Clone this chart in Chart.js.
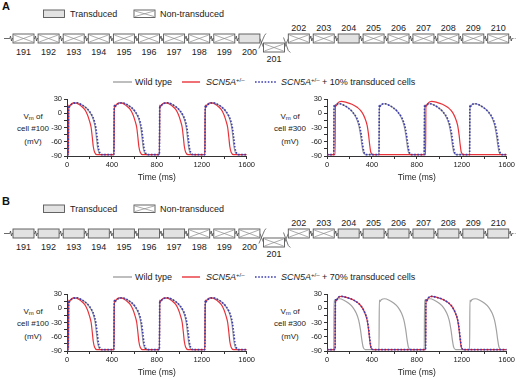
<!DOCTYPE html>
<html>
<head>
<meta charset="utf-8">
<script src="https://cdn.jsdelivr.net/npm/chart.js@4.4.1/dist/chart.umd.min.js"></script>
<style>
body { margin: 0; background: #fff; font-family: "Liberation Sans", Arial, sans-serif; color: #222; }
#fig { position: relative; width: 520px; height: 379px; overflow: hidden; }
.panel { position: absolute; left: 0; width: 520px; height: 190px; }
.panel svg { position: absolute; left: 0; top: 0; }
.panel canvas { position: absolute; }
.ylab { position: absolute; width: 60px; text-align: center; font-size: 8px; line-height: 12.5px; }
.ylab sub { font-size: 6px; vertical-align: -1px; line-height: 0; }
.leg { position: absolute; font-size: 9px; line-height: 10px; white-space: nowrap; }
.leg sup { font-size: 6px; vertical-align: 3px; line-height: 0; }
</style>
</head>
<body>
<div id="fig"></div>
<script>
// cells of the strand and which ones are transduced
const cellIds = [191, 192, 193, 194, 195, 196, 197, 198, 199, 200, 201, 202, 203, 204, 205, 206, 207, 208, 209, 210];
const transducedA = [200, 204];
const transducedB = [191, 192, 193, 194, 195, 196, 197, 204, 205, 206, 207, 208, 209, 210];
const transducedPct = ["10%", "70%"];

// one action potential per series, [ms after upstroke, mV]
const wtBeat100 = [[0, -87], [3, 16], [8, 13], [20, 17], [45, 21], [75, 22], [110, 19], [150, 13], [185, 4], [210, -6], [228, -18], [240, -32], [250, -52], [260, -72], [272, -83], [290, -87]];
const hetBeat100 = [[0, -87], [3, 17], [8, 14], [20, 18], [45, 22], [75, 21], [110, 16], [145, 8], [170, -3], [188, -16], [203, -30], [213, -50], [222, -70], [234, -82], [255, -87]];
const trBeat100 = [[0, -87], [3, 16], [8, 13], [20, 17], [45, 21], [75, 22], [110, 19], [150, 13], [185, 5], [212, -5], [232, -17], [246, -32], [257, -52], [267, -72], [280, -83], [298, -87]];
const wtBeat300 = [[0, -87], [3, 17], [7, 14], [20, 18], [50, 20], [90, 17], [130, 11], [170, 2], [200, -10], [222, -25], [238, -45], [250, -66], [262, -82], [280, -87]];
const hetBeat300 = [[0, -87], [3, 18], [8, 15], [25, 22], [55, 25], [100, 23], [150, 19], [200, 12], [240, 2], [265, -10], [285, -25], [298, -45], [308, -66], [318, -82], [338, -87]];
const trBeat300A = [[0, -87], [3, 17], [7, 14], [20, 18], [50, 20], [90, 17], [130, 11], [170, 2], [205, -10], [228, -25], [245, -45], [257, -66], [270, -82], [292, -87]];
const trBeat300B = [[0, -87], [3, 18], [8, 15], [25, 22], [55, 25], [100, 23], [150, 19], [200, 12], [240, 2], [266, -10], [287, -25], [300, -45], [310, -66], [320, -82], [340, -87]];

// upstroke times (ms)
const onsets100 = [12, 418, 823, 1228];
const onsets300 = [60, 463, 866, 1270];
const onsetsHet300 = [72, 878];

const timeTicks = [0, 400, 800, 1200, 1600];
const vmTicks = [30, 0, -30, -60, -90];

function trace(beat, onsets) {
  const rest = beat[0][1];
  const pts = [{ x: 0, y: rest }];
  onsets.forEach(t0 => beat.forEach(([dt, v]) => pts.push({ x: t0 + dt, y: v })));
  pts.push({ x: 1600, y: beat[beat.length - 1][1] });
  return pts;
}

const GRAY = "#a2a2a2", RED = "#e8333a", BLUE = "#3c3cae";

function series(wt, het, tr) {
  return [
    { data: tr, borderColor: BLUE, borderWidth: 1.6, borderDash: [1.6, 1.6] },
    { data: het, borderColor: RED, borderWidth: 1.2 },
    { data: wt, borderColor: GRAY, borderWidth: 1.2 }
  ];
}

const axisCommon = {
  grid: { drawOnChartArea: false, drawTicks: true, tickLength: 3, color: "#333", lineWidth: 1 },
  border: { display: true, color: "#333", width: 1 }
};

function makeChart(canvas, datasets) {
  return new Chart(canvas, {
    type: "line",
    data: { datasets },
    options: {
      responsive: false,
      animation: false,
      layout: { padding: { top: 7, right: 8, left: 0, bottom: 0 } },
      plugins: { legend: { display: false }, tooltip: { enabled: false } },
      elements: { point: { radius: 0 }, line: { cubicInterpolationMode: "monotone", fill: false } },
      scales: {
        x: {
          ...axisCommon,
          type: "linear", min: 0, max: 1600,
          ticks: { stepSize: 200, autoSkip: false, maxRotation: 0, padding: 1, color: "#222",
                   font: { size: 7.5, family: "Liberation Sans" },
                   callback: v => timeTicks.includes(v) ? v : "" },
          title: { display: true, text: "Time (ms)", color: "#222", padding: { top: 0, bottom: 4 },
                   font: { size: 8.5, family: "Liberation Sans" } },
          afterFit: s => { s.height = 31; }
        },
        y: {
          ...axisCommon,
          min: -90, max: 30,
          ticks: { stepSize: 15, autoSkip: false, padding: 2, color: "#222",
                   font: { size: 7.5, family: "Liberation Sans" },
                   callback: v => vmTicks.includes(v) ? v : "" },
          afterFit: s => { s.width = 27; }
        }
      }
    }
  });
}

const NS = "http://www.w3.org/2000/svg";
function el(parent, tag, attrs, text) {
  const e = document.createElementNS(NS, tag);
  for (const k in attrs) e.setAttribute(k, attrs[k]);
  if (text !== undefined) e.textContent = text;
  parent.appendChild(e);
  return e;
}

function cellBox(svg, x, y, w, h, filled) {
  el(svg, "rect", { x, y, width: w, height: h, fill: filled ? "#e2e2e2" : "#fff", stroke: "#555", "stroke-width": 0.9 });
  if (!filled) {
    el(svg, "path", { d: `M${x + 1},${y + 1}L${x + w - 1},${y + h - 1}M${x + 1},${y + h - 1}L${x + w - 1},${y + 1}`, stroke: "#888", "stroke-width": 0.7, fill: "none" });
  }
}

function link(svg, a, b, y) {
  el(svg, "path", { d: `M${a},${y}L${a + 0.8},${y}L${a + 1.5},${y - 2.5}L${a + 2.5},${y + 2.5}L${a + 3.2},${y}L${b},${y}`, stroke: "#444", "stroke-width": 0.8, fill: "none" });
}

function buildStrip(svg, letter, transduced) {
  const txt = { "font-family": "Liberation Sans, Arial, sans-serif", "font-size": 9, fill: "#222" };
  el(svg, "text", { x: 2, y: 10, "font-family": "Liberation Sans, Arial, sans-serif", "font-size": 11, "font-weight": "bold", fill: "#111" }, letter);
  // legend
  cellBox(svg, 43.5, 10, 21, 7.5, true);
  el(svg, "text", { ...txt, x: 70, y: 17 }, "Transduced");
  cellBox(svg, 134, 10, 21, 7.5, false);
  el(svg, "text", { ...txt, x: 160, y: 17 }, "Non-transduced");

  const w = 21, h = 9, rowY = 34, midY = rowY + h / 2;
  const pos = {};
  cellIds.forEach((id, i) => {
    if (id <= 200) pos[id] = { x: 13 + i * 25.1, y: rowY, ly: 54.5 };
    else if (id === 201) pos[id] = { x: 263.5, y: 43, ly: 61.5 };
    else pos[id] = { x: 288.3 + (id - 202) * 24.93, y: rowY, ly: 31 };
  });
  // wires
  el(svg, "path", { d: `M4,${midY}L9,${midY}`, stroke: "#444", "stroke-width": 0.8 });
  link(svg, 9, 13, midY);
  cellIds.forEach(id => {
    const p = pos[id], q = pos[id + 1];
    if (!q || id === 200 || id === 201) return;
    link(svg, p.x + w, q.x, midY);
  });
  const e = pos[210].x + w;
  link(svg, e, e + 4, midY);
  el(svg, "path", { d: `M${e + 4},${midY}L${e + 7},${midY}`, stroke: "#888", "stroke-width": 0.8, "stroke-dasharray": "1,1" });
  const a = pos[200].x + w, c = pos[201], d = pos[202].x;
  const ly = c.y + h / 2;
  el(svg, "path", { d: `M${a},${midY}L${c.x},${ly}M${a - 1},${ly + 1}L${c.x + 1},${midY - 3}L${c.x + 2.5},${midY - 5}`, stroke: "#555", "stroke-width": 0.8, fill: "none" });
  el(svg, "path", { d: `M${c.x + w},${ly}L${d},${midY}M${c.x + w - 1},${midY - 1}L${d},${ly + 3}L${d + 2},${ly + 5}`, stroke: "#555", "stroke-width": 0.8, fill: "none" });
  // cells and numbers
  cellIds.forEach(id => {
    const p = pos[id];
    cellBox(svg, p.x, p.y, w, h, transduced.includes(id));
    el(svg, "text", { ...txt, x: p.x + w / 2, y: p.ly, "text-anchor": "middle" }, String(id));
  });
}

function addLegend(panel, svg, pct) {
  const items = [
    { seg: [113, 132], color: GRAY, width: 1.4, dash: null, x: 135, html: "Wild type" },
    { seg: [182, 200], color: RED, width: 1.4, dash: null, x: 206, html: "<i>SCN5A</i><sup>+/\u2013</sup>" },
    { seg: [255, 277], color: BLUE, width: 1.6, dash: "1.6,1.6", x: 281, html: `<i>SCN5A</i><sup>+/\u2013</sup> + ${pct} transduced cells` }
  ];
  items.forEach(it => {
    const attrs = { x1: it.seg[0], x2: it.seg[1], y1: 82, y2: 82, stroke: it.color, "stroke-width": it.width };
    if (it.dash) attrs["stroke-dasharray"] = it.dash;
    el(svg, "line", attrs);
    const t = document.createElement("div");
    t.className = "leg";
    t.style.left = it.x + "px";
    t.style.top = "77px";
    t.innerHTML = it.html;
    panel.appendChild(t);
  });
}

function addYLabel(panel, cx, cell) {
  const d = document.createElement("div");
  d.className = "ylab";
  d.style.left = (cx - 30) + "px";
  d.style.top = "110.5px";
  d.innerHTML = `V<sub>m</sub> of<br>cell #${cell}<br>(mV)`;
  panel.appendChild(d);
}

function addCanvas(panel, left) {
  const cv = document.createElement("canvas");
  cv.width = 216; cv.height = 95;
  cv.style.left = left + "px";
  cv.style.top = "92px";
  panel.appendChild(cv);
  return cv;
}

const fig = document.getElementById("fig");
const panelDefs = [
  { letter: "A", top: 0, transduced: transducedA, pct: transducedPct[0],
    left: series(trace(wtBeat100, onsets100), trace(hetBeat100, onsets100), trace(trBeat100, onsets100)),
    right: series(trace(wtBeat300, onsets300), trace(hetBeat300, onsetsHet300), trace(trBeat300A, onsets300)) },
  { letter: "B", top: 195, transduced: transducedB, pct: transducedPct[1],
    left: series(trace(wtBeat100, onsets100), trace(hetBeat100, onsets100), trace(trBeat100, onsets100)),
    right: series(trace(wtBeat300, onsets300), trace(hetBeat300, onsetsHet300), trace(trBeat300B, onsetsHet300)) }
];

panelDefs.forEach(p => {
  const panel = document.createElement("div");
  panel.className = "panel";
  panel.style.top = p.top + "px";
  fig.appendChild(panel);
  const svg = el(panel, "svg", { width: 520, height: 90 });
  buildStrip(svg, p.letter, p.transduced);
  addLegend(panel, svg, p.pct);
  addYLabel(panel, 33, 100);
  addYLabel(panel, 290, 300);
  makeChart(addCanvas(panel, 40), p.left);
  makeChart(addCanvas(panel, 300), p.right);
});
</script>
</body>
</html>
